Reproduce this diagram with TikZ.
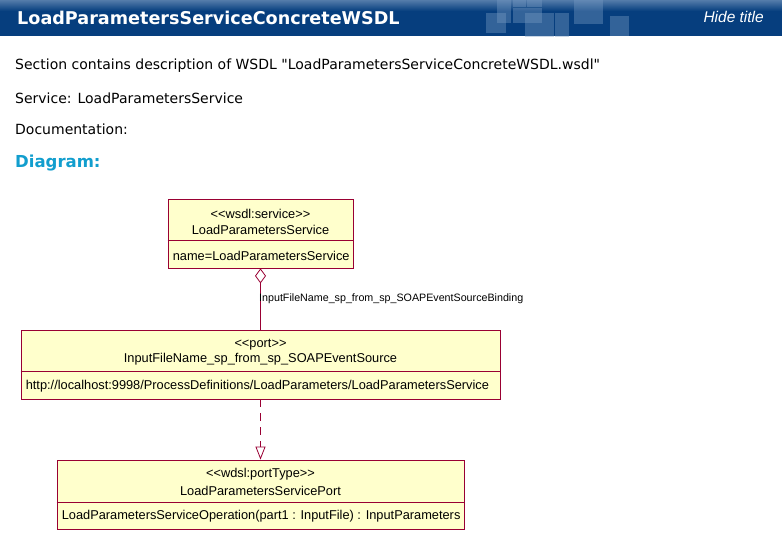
\documentclass[tikz,border=0pt]{standalone}
\usepackage{fontspec}
\setmainfont{DejaVu Sans}[Ligatures=TeXOff]
\newfontfamily\umlfont{Liberation Sans}[Ligatures=TeXOff]
\usetikzlibrary{calc}
\usetikzlibrary{positioning}
\usetikzlibrary{arrows.meta}

\definecolor{barblue}{RGB}{6,62,126}
\definecolor{barlight}{RGB}{84,124,170}
\definecolor{tileblue}{RGB}{120,155,195}
\definecolor{umlfill}{RGB}{255,255,204}
\definecolor{umlborder}{RGB}{153,0,51}
\definecolor{headcyan}{RGB}{18,158,206}

\newcommand{\stopen}{<\kern0pt<}
\newcommand{\stclose}{>\kern0pt>}

\begin{document}
\begin{tikzpicture}[x=1pt,y=-1pt,
    umlbox/.style={draw=umlborder, fill=umlfill, line width=0.8pt, inner sep=0pt},
    umltext/.style={font=\umlfont\fontsize{12.8}{15}\selectfont, inner sep=0pt},
    pagetext/.style={anchor=west, inner sep=0pt, font=\fontsize{14}{16}\selectfont},
    edgelabel/.style={anchor=west, inner sep=0pt, font=\umlfont\fontsize{10.7}{12}\selectfont},
    umlline/.style={draw=umlborder, line width=0.8pt},
    tile/.style={fill=tileblue, opacity=0.4}]
            \useasboundingbox (0,0) rectangle (782,540);

            % Title bar
            \fill[barblue] (0,0) rectangle (782,36);
            \shade[top color=barlight, bottom color=barblue] (0,0) rectangle (782,11);
            \fill[tile] (497,0) rectangle (511,23);
            \fill[tile] (513,0) rectangle (526,7);
            \fill[tile] (527,0) rectangle (542,7);
            \fill[tile] (513,8) rectangle (542,23);
            \fill[tile] (486,13) rectangle (506,33);
            \fill[tile] (525,13) rectangle (554,37);
            \fill[tile] (555,13) rectangle (569,37);
            \fill[tile] (574,0) rectangle (603,24);
            \fill[tile] (610,16) rectangle (629,36);
            \node[anchor=base west, inner sep=0pt, text=white, font=\bfseries\fontsize{17.6}{20}\selectfont] (title) at (17,25) {LoadParametersServiceConcreteWSDL};
            \node[anchor=base east, inner sep=0pt, text=white, font=\umlfont\itshape\fontsize{15.5}{18}\selectfont] (hide) at (764,23) {Hide title};

            % Page text
            \node[pagetext] (section) at (15,66) {Section contains description of WSDL "LoadParametersServiceConcreteWSDL.wsdl"};
            \node[pagetext] (servicename) at (15,98) {Service: LoadParametersService};
            \node[pagetext] (documentation) at (15,129) {Documentation:};
            \node[pagetext, text=headcyan, font=\bfseries\fontsize{16.5}{19}\selectfont] (diagram) at (15,163) {Diagram:};

            % Service
            \node[umlbox, minimum width=185, minimum height=69] (service) at (260.5,233.5) {};
            \draw[umlline] ($(service.north west)+(0,42)$) -- ($(service.north east)+(0,42)$);
            \node[umltext] (servicest) at (260.5,213.5) {\stopen wsdl:service\stclose};
            \node[umltext] (servicenm) at (260.5,229.5) {LoadParametersService};
            \node[umltext, anchor=west] (serviceat) at ($(service.west)+(5,22)$) {name=LoadParametersService};

            % Port
            \node[umlbox, minimum width=479, minimum height=69] (port) at (260.5,364.5) {};
            \draw[umlline] ($(port.north west)+(0,42)$) -- ($(port.north east)+(0,42)$);
            \node[umltext] (portst) at (260.5,344.5) {\stopen port\stclose};
            \node[umltext] (portnm) at (260.5,359.5) {InputFileName\_sp\_from\_sp\_SOAPEventSource};
            \node[umltext, anchor=west] (portat) at ($(port.west)+(5,22)$) {http://localhost:9998/ProcessDefinitions/LoadParameters/LoadParametersService};

            % Port type
            \node[umlbox, minimum width=407, minimum height=69] (porttype) at (260.5,494.5) {};
            \draw[umlline] ($(porttype.north west)+(0,43)$) -- ($(porttype.north east)+(0,43)$);
            \node[umltext] (porttypest) at (260.5,474.5) {\stopen wdsl:portType\stclose};
            \node[umltext] (porttypenm) at (260.5,490.5) {LoadParametersServicePort};
            \node[umltext, anchor=west] (porttypeop) at ($(porttype.west)+(5,22)$) {LoadParametersServiceOperation(part1 : InputFile) : InputParameters};

            % Connectors
            \draw[umlline, {Diamond[open, length=15pt, width=11pt]}-] (service.south) -- (port.north);
            \node[edgelabel] (binding) at (259,299) {InputFileName\_sp\_from\_sp\_SOAPEventSourceBinding};
            \draw[umlline, dash pattern=on 8pt off 6pt, -{Triangle[open, length=13pt, width=10pt]}] (port.south) -- (porttype.north);
\end{tikzpicture}
\end{document}
